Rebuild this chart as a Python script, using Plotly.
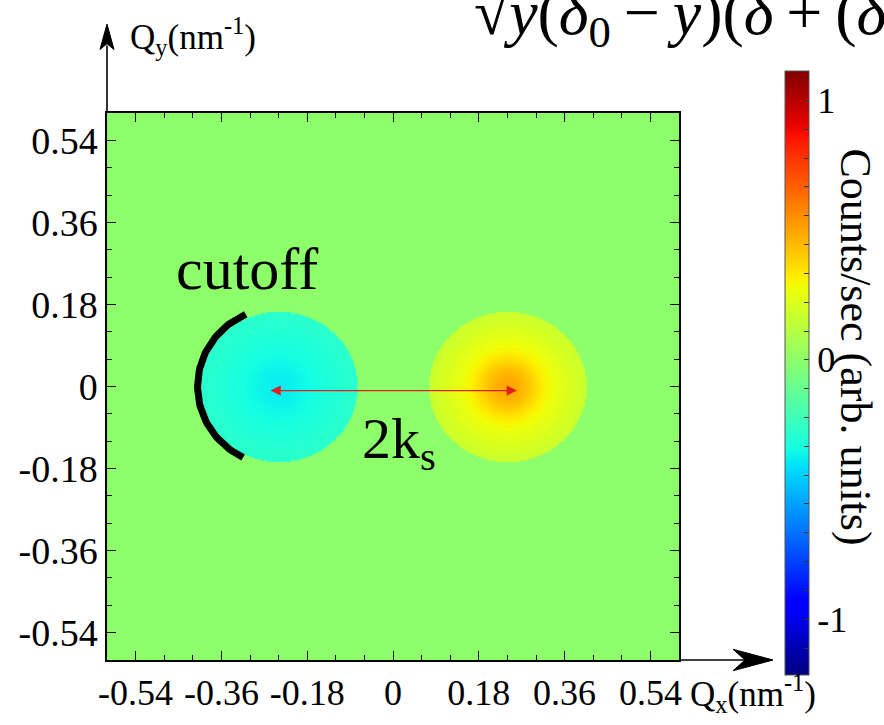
import numpy as np
import plotly.graph_objects as go

# ---- axis ticks -------------------------------------------------------
axis_ticks = [-0.54, -0.36, -0.18, 0.0, 0.18, 0.36, 0.54]
axis_ticktext = ["-0.54", "-0.36", "-0.18", "0", "0.18", "0.36", "0.54"]
cbar_labels = {-1: "-1", 0: "0", 1: "1"}

# ---- scattering spots (Qx, Qy in nm^-1) ------------------------------
spot_qx = [-0.24, 0.24]
spot_qy = [0.0, 0.0]
spot_radius = 0.165

# radial profile of each spot: distance from centre -> counts/sec
profile_r = [0.0, 0.02, 0.04, 0.06, 0.08, 0.10, 0.12, 0.14, 0.165]
left_counts = [-0.38, -0.375, -0.365, -0.35, -0.335, -0.32, -0.305, -0.29, -0.28]
right_counts = [0.50, 0.48, 0.43, 0.36, 0.30, 0.26, 0.23, 0.20, 0.17]

z_min, z_max = -1.214, 1.114

# 2k_s arrow end points and cutoff arc
ks_arrow_qx = [-0.26, 0.26]
ks_arrow_qy = -0.009
cutoff_center = (-0.235, 0.0)
cutoff_radius = 0.175
cutoff_deg = (115, 243)

# ---- figure geometry ---------------------------------------------------
W, H = 884, 725
ML, MR, MT, MB = 107, 205, 113, 52
PW, PH = W - ML - MR, H - MT - MB


def paper(xp, yp):
    return (xp - ML) / PW, (H - MB - yp) / PH


def jet(t):
    r = np.interp(t, [0, 0.35, 0.66, 0.89, 1], [0, 0, 1, 1, 0.5])
    g = np.interp(t, [0, 0.125, 0.375, 0.64, 0.91, 1], [0, 0, 1, 1, 0, 0])
    b = np.interp(t, [0, 0.11, 0.34, 0.65, 1], [0.5, 1, 1, 0, 0])
    return "rgb(%d,%d,%d)" % (round(r * 255), round(g * 255), round(b * 255))


stops = np.linspace(0, 1, 65)
jet_scale = [[float(s), jet(s)] for s in stops]
zero_color = jet((0 - z_min) / (z_max - z_min))

# ---- intensity map -----------------------------------------------------
qx = np.linspace(-0.6, 0.6, 361)
qy = np.linspace(-0.6, 0.6, 361)
QX, QY = np.meshgrid(qx, qy)
Z = np.zeros_like(QX)
for cx, cy, counts in zip(spot_qx, spot_qy, [left_counts, right_counts]):
    r = np.hypot(QX - cx, QY - cy)
    inside = r <= spot_radius
    Z[inside] = np.interp(r[inside], profile_r, counts)

cb_k = np.arange(-10, 11)
cb_vals = [float(k) / 9 for k in cb_k]
cb_text = [cbar_labels.get(int(k // 9), "") if k % 9 == 0 else "" for k in cb_k]

serif = "Liberation Serif"

fig = go.Figure()
fig.add_trace(go.Heatmap(
    x=qx, y=qy, z=Z, zmin=z_min, zmax=z_max, zsmooth="best",
    colorscale=jet_scale, hoverinfo="skip",
    colorbar=dict(
        x=paper(785, 0)[0], xanchor="left", xpad=0, ypad=0,
        y=paper(0, 379)[1], yanchor="middle",
        thickness=24, thicknessmode="pixels",
        len=604, lenmode="pixels",
        outlinewidth=1, outlinecolor="#555555",
        tickmode="array", tickvals=cb_vals, ticktext=cb_text,
        ticks="inside", ticklen=5, tickwidth=1, tickcolor="#333333",
        tickfont=dict(family=serif, size=36, color="black"),
    ),
))

# cutoff arc
th = np.radians(np.linspace(cutoff_deg[0], cutoff_deg[1], 80))
fig.add_trace(go.Scatter(
    x=cutoff_center[0] + cutoff_radius * np.cos(th),
    y=cutoff_center[1] + cutoff_radius * np.sin(th),
    mode="lines", line=dict(color="black", width=7),
    hoverinfo="skip", showlegend=False,
))

axis_common = dict(
    range=[-0.6, 0.6], tickmode="array", tickvals=axis_ticks, ticktext=axis_ticktext,
    ticks="inside", ticklen=9, tickwidth=1.3, tickcolor="black",
    minor=dict(dtick=0.06, tick0=0, ticks="inside", ticklen=5, tickwidth=1.2, tickcolor="black"),
    showline=True, linecolor="black", linewidth=1.5, mirror="ticks",
    showgrid=False, zeroline=False,
)
fig.update_xaxes(**axis_common, tickfont=dict(family=serif, size=36, color="black"))
fig.update_yaxes(**axis_common, tickfont=dict(family=serif, size=38, color="black"))

annotations = []
# 2k_s double arrow
annotations.append(dict(
    x=ks_arrow_qx[1], y=ks_arrow_qy, ax=ks_arrow_qx[0], ay=ks_arrow_qy,
    xref="x", yref="y", axref="x", ayref="y", text="", showarrow=True,
    arrowhead=2, arrowside="end+start", arrowsize=1.7, arrowwidth=1.2,
    arrowcolor="#e02020", standoff=0, startstandoff=0,
))
annotations.append(dict(
    x=-0.306, y=0.258, xref="x", yref="y", text="cutoff", showarrow=False,
    font=dict(family=serif, size=60, color="black"), xanchor="center", yanchor="middle",
))
annotations.append(dict(
    x=0.012, y=-0.123, xref="x", yref="y", text="2k<sub>s</sub>", showarrow=False,
    font=dict(family=serif, size=58, color="black"), xanchor="center", yanchor="middle",
))
px, py = paper(128, 35)
annotations.append(dict(
    x=px, y=py, xref="paper", yref="paper", text="Q<sub>y</sub>(nm<sup>-1</sup>)",
    showarrow=False, font=dict(family=serif, size=35, color="black"),
    xanchor="left", yanchor="middle",
))
px, py = paper(688, 707)
annotations.append(dict(
    x=px, y=py, xref="paper", yref="paper", text="Q<sub>x</sub>(nm<sup>-1</sup>)",
    showarrow=False, font=dict(family=serif, size=35, color="black"),
    xanchor="left", yanchor="middle",
))
px, py = paper(856, 352)
annotations.append(dict(
    x=px, y=py, xref="paper", yref="paper", text="Counts/sec (arb. units)",
    textangle=90, showarrow=False, font=dict(family=serif, size=44, color="black"),
    xanchor="center", yanchor="middle",
))
px, py = paper(472, 58)
annotations.append(dict(
    x=px, y=py, xref="paper", yref="paper",
    text="√<i>y</i>(<i>δ</i><sub>0</sub>\u2009−\u2009<i>y</i>)(<i>δ</i>\u2009+\u2009(<i>δ</i>",
    showarrow=False, font=dict(family=serif, size=64, color="black"),
    xanchor="left", yanchor="bottom",
))

# axis arrows drawn as line + stealth head
shapes = []


def seg(p0, p1, w=1.6):
    a, b = paper(*p0), paper(*p1)
    return dict(type="line", xref="paper", yref="paper", x0=a[0], y0=a[1], x1=b[0], y1=b[1],
                line=dict(color="black", width=w), layer="above")


def poly(points):
    pts = [paper(*p) for p in points]
    path = "M " + " L ".join("%.5f,%.5f" % p for p in pts) + " Z"
    return dict(type="path", xref="paper", yref="paper", path=path,
                fillcolor="black", line=dict(color="black", width=1), layer="above")


shapes.append(seg((ML, MT), (ML, 44)))
shapes.append(poly([(ML, 22), (ML + 7, 48), (ML, 42), (ML - 7, 48)]))
shapes.append(seg((ML + PW, H - MB), (745, H - MB)))
shapes.append(poly([(773, H - MB), (733, H - MB - 11), (745, H - MB), (733, H - MB + 11)]))

fig.update_layout(
    width=W, height=H, margin=dict(l=ML, r=MR, t=MT, b=MB),
    paper_bgcolor="white", plot_bgcolor=zero_color,
    showlegend=False, annotations=annotations, shapes=shapes,
)

fig.write_html("out.html")
